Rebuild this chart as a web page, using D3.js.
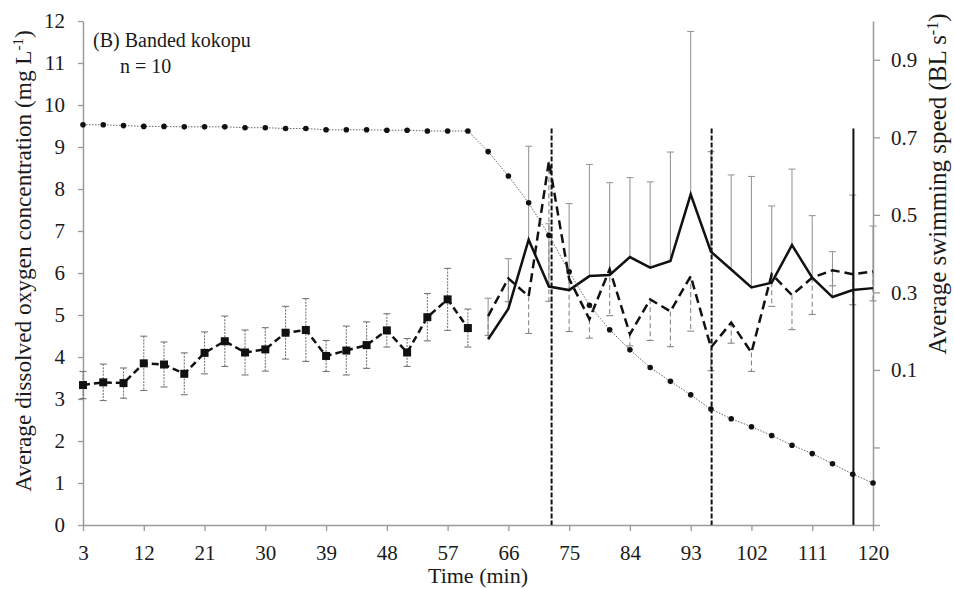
<!DOCTYPE html>
<html lang="en">
<head>
<meta charset="UTF-8">
<script src="https://d3js.org/d3.v7.min.js"></script>
<title>Banded kokopu</title>
<style>
    body { margin: 0; background: #fff; }
    svg, svg text { font-family: "Liberation Serif", "Tinos", "DejaVu Serif", serif; }
    svg text { fill: #1a1a1a; }
</style>
</head>
<body>
<div id="chart"></div>
<script>
const width = 954, height = 589;

// sampling times (min)
const times = [3, 6, 9, 12, 15, 18, 21, 24, 27, 30, 33, 36, 39, 42, 45, 48, 51, 54, 57, 60,
               63, 66, 69, 72, 75, 78, 81, 84, 87, 90, 93, 96, 99, 102, 105, 108, 111, 114, 117, 120];
const xTickLabels = [3, 12, 21, 30, 39, 48, 57, 66, 75, 84, 93, 102, 111, 120];

// dissolved oxygen (mg/L), left axis
const doConc = [9.53, 9.53, 9.51, 9.49, 9.49, 9.48, 9.48, 9.48, 9.46, 9.46, 9.44, 9.44, 9.41, 9.41, 9.41, 9.40, 9.40, 9.38, 9.38, 9.38,
                8.89, 8.31, 7.67, 6.90, 6.03, 5.23, 4.65, 4.17, 3.75, 3.42, 3.10, 2.76, 2.53, 2.34, 2.13, 1.90, 1.70, 1.46, 1.21, 1.00];

// swimming speed before hypoxia (3-60 min), right axis
const preTimes = times.slice(0, 20);
const preSpeed = [0.061, 0.068, 0.066, 0.117, 0.114, 0.090, 0.144, 0.174, 0.145, 0.153,
                  0.196, 0.203, 0.136, 0.150, 0.164, 0.202, 0.145, 0.236, 0.282, 0.208];
const preErr = [0.035, 0.047, 0.039, 0.070, 0.058, 0.054, 0.054, 0.065, 0.058, 0.056,
                0.068, 0.081, 0.040, 0.063, 0.060, 0.043, 0.036, 0.061, 0.080, 0.049];

// swimming speed during hypoxia (63-120 min)
const postTimes = times.slice(20);
const solidSpeed = [0.179, 0.258, 0.436, 0.315, 0.306, 0.342, 0.345, 0.391, 0.364, 0.381,
                    0.553, 0.405, 0.359, 0.313, 0.325, 0.422, 0.338, 0.288, 0.306, 0.311];
const solidErr = [0.106, 0.129, 0.241, 0.162, 0.223, 0.288, 0.238, 0.205, 0.221, 0.281,
                  0.420, 0.258, 0.244, 0.286, 0.198, 0.196, 0.160, 0.117, 0.245, 0.160];
const dashSpeed = [0.239, 0.336, 0.290, 0.638, 0.335, 0.231, 0.360, 0.192, 0.282, 0.251,
                   0.342, 0.158, 0.222, 0.145, 0.347, 0.293, 0.338, 0.357, 0.347, 0.354];
const dashErr = [0.050, 0.060, 0.096, 0.361, 0.136, 0.049, 0.120, 0.030, 0.106, 0.091,
                 0.142, 0.060, 0.053, 0.049, 0.083, 0.089, 0.095, 0.040, 0.079, 0.076];

// vertical event markers (min) and their style
const markerTimes = [72.4, 96.1, 117.1];
const markerDashed = [true, true, false];
const markerTop = 9.44;

const leftTicks = [0, 1, 2, 3, 4, 5, 6, 7, 8, 9, 10, 11, 12];
const rightTicks = [-0.3, -0.1, 0.1, 0.3, 0.5, 0.7, 0.9];

const fontFam = "Liberation Serif, Tinos, DejaVu Serif, serif";

const svg = d3.select("#chart").append("svg")
    .attr("width", width)
    .attr("height", height)
    .style("font-family", fontFam);

const x = d3.scaleLinear().domain([3, 120]).range([83, 873]);
const yL = d3.scaleLinear().domain([0, 12]).range([525, 21]);
const yR = d3.scaleLinear().domain([-0.3, 1.0]).range([525, 21]);

const axisColor = "#9a9a9a";

// axes
const styleAxis = g => {
    g.attr("font-family", null).attr("font-size", 21).style("font-family", fontFam);
    g.select(".domain").attr("stroke", axisColor).attr("stroke-width", 1.5);
    g.selectAll(".tick line").attr("stroke", axisColor).attr("stroke-width", 1.3);
    g.selectAll(".tick text").attr("fill", "#1a1a1a");
};

svg.append("g")
    .attr("transform", "translate(0,525)")
    .call(d3.axisBottom(x).tickValues(xTickLabels).tickSize(6).tickSizeOuter(0).tickPadding(14))
    .call(styleAxis);

svg.append("g")
    .attr("transform", "translate(83,0)")
    .call(d3.axisLeft(yL).tickValues(leftTicks).tickSize(5).tickSizeOuter(0).tickPadding(13))
    .call(styleAxis);

svg.append("g")
    .attr("transform", "translate(873,0)")
    .call(d3.axisRight(yR).tickValues(rightTicks).tickSize(7).tickSizeOuter(0).tickPadding(11)
        .tickFormat(d => d > 0 ? d3.format(".1f")(d) : ""))
    .call(styleAxis);

// error bars
const cap = 3.5;
const drawBars = (ts, vals, errs, dir, color, dash) => {
    const g = svg.append("g")
        .attr("stroke", color)
        .attr("stroke-width", 1.1)
        .attr("fill", "none");
    ts.forEach((t, i) => {
        const cx = x(t);
        const hi = dir >= 0 ? yR(vals[i] + errs[i]) : yR(vals[i]);
        const lo = dir <= 0 ? yR(vals[i] - errs[i]) : yR(vals[i]);
        g.append("line").attr("x1", cx).attr("x2", cx).attr("y1", hi).attr("y2", lo)
            .attr("stroke-dasharray", dash);
        if (dir >= 0) g.append("line").attr("x1", cx - cap).attr("x2", cx + cap).attr("y1", hi).attr("y2", hi);
        if (dir <= 0) g.append("line").attr("x1", cx - cap).attr("x2", cx + cap).attr("y1", lo).attr("y2", lo);
    });
};
drawBars(preTimes, preSpeed, preErr, 0, "#777", "2,1.2");
drawBars(postTimes, solidSpeed, solidErr, 1, "#999", null);
drawBars(postTimes, dashSpeed, dashErr, -1, "#888", "5,3");

// speed lines
const lineR = d3.line().x(d => x(d[0])).y(d => yR(d[1]));

svg.append("path")
    .datum(preTimes.map((t, i) => [t, preSpeed[i]]))
    .attr("d", lineR)
    .attr("fill", "none").attr("stroke", "#111").attr("stroke-width", 2.5)
    .attr("stroke-dasharray", "7,4");

svg.selectAll("rect.pre")
    .data(preTimes.map((t, i) => [t, preSpeed[i]]))
    .join("rect")
    .attr("class", "pre")
    .attr("x", d => x(d[0]) - 4).attr("y", d => yR(d[1]) - 4)
    .attr("width", 8).attr("height", 8)
    .attr("fill", "#111");

svg.append("path")
    .datum(postTimes.map((t, i) => [t, dashSpeed[i]]))
    .attr("d", lineR)
    .attr("fill", "none").attr("stroke", "#111").attr("stroke-width", 2.5)
    .attr("stroke-dasharray", "9,5");

svg.append("path")
    .datum(postTimes.map((t, i) => [t, solidSpeed[i]]))
    .attr("d", lineR)
    .attr("fill", "none").attr("stroke", "#111").attr("stroke-width", 2.5);

// dissolved oxygen
const lineL = d3.line().x(d => x(d[0])).y(d => yL(d[1]));
const doPts = times.map((t, i) => [t, doConc[i]]);

svg.append("path")
    .datum(doPts)
    .attr("d", lineL)
    .attr("fill", "none").attr("stroke", "#666").attr("stroke-width", 1)
    .attr("stroke-dasharray", "1.5,1.5");

svg.selectAll("circle.do")
    .data(doPts)
    .join("circle")
    .attr("class", "do")
    .attr("cx", d => x(d[0])).attr("cy", d => yL(d[1]))
    .attr("r", 2.8)
    .attr("fill", "#111");

// event markers
markerTimes.forEach((t, i) => {
    svg.append("line")
        .attr("x1", x(t)).attr("x2", x(t))
        .attr("y1", yL(markerTop)).attr("y2", yL(0))
        .attr("stroke", "#111").attr("stroke-width", 2)
        .attr("stroke-dasharray", markerDashed[i] ? "5,2" : null);
});

// titles
svg.append("text")
    .attr("transform", "translate(31,261) rotate(-90)")
    .attr("text-anchor", "middle")
    .attr("font-size", 23.3)
    .html('Average dissolved oxygen concentration (mg L<tspan dy="-8" font-size="15">-1</tspan><tspan dy="8">)</tspan>');

svg.append("text")
    .attr("transform", "translate(946,184) rotate(-90)")
    .attr("text-anchor", "middle")
    .attr("font-size", 25)
    .html('Average swimming speed (BL s<tspan dy="-8" font-size="16">-1</tspan><tspan dy="8">)</tspan>');

svg.append("text")
    .attr("x", 478).attr("y", 583)
    .attr("text-anchor", "middle")
    .attr("font-size", 22)
    .text("Time (min)");

svg.append("text")
    .attr("x", 93).attr("y", 47)
    .attr("font-size", 20)
    .text("(B) Banded kokopu");

svg.append("text")
    .attr("x", 120).attr("y", 73)
    .attr("font-size", 20)
    .text("n = 10");
</script>
</body>
</html>
